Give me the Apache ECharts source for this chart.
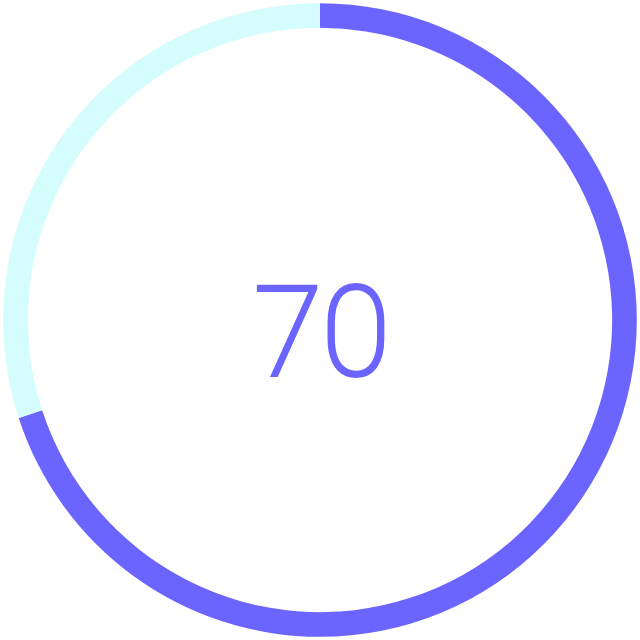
<!DOCTYPE html>
<html><head><meta charset="utf-8">
<script src="https://cdn.jsdelivr.net/npm/echarts@6/dist/echarts.min.js"></script>
<style>html,body{margin:0;padding:0;background:#fff}#c{width:640px;height:640px}</style>
</head><body><div id="c"></div>
<script>
const progressValue = 70;
const totalValue = 100;
const labelText = String(progressValue);
const chart = echarts.init(document.getElementById('c'));
chart.setOption({
  animation: false,
  backgroundColor: '#ffffff',
  graphic: [{
    type: 'text',
    x: 322, y: 344,
    silent: true,
    style: {
      text: labelText,
      align: 'center', verticalAlign: 'middle',
      fontFamily: 'Roboto', fontWeight: 100, fontSize: 124,
      fill: '#6c64ff', stroke: '#6c64ff', lineWidth: 4, lineJoin: 'round', lineCap: 'round'
    }
  }],
  series: [{
    type: 'pie',
    radius: ['91.3%', '99%'],
    center: ['50%', '50%'],
    startAngle: 90,
    clockwise: true,
    silent: true,
    label: { show: false },
    labelLine: { show: false },
    data: [
      { value: progressValue, itemStyle: { color: '#6c64ff' } },
      { value: totalValue - progressValue, itemStyle: { color: '#d6fdfd' } }
    ]
  }]
});
</script></body></html>
